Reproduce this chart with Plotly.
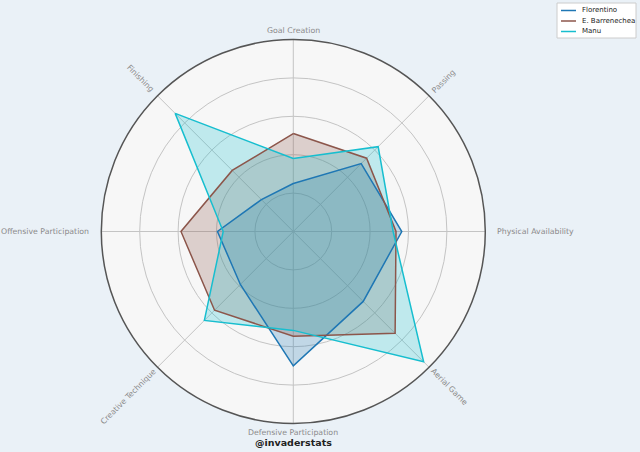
import numpy as np
import plotly.graph_objects as go

categories = ['Goal Creation', 'Passing', 'Physical Availability', 'Aerial Game',
              'Defensive Participation', 'Creative Technique',
              'Offensive Participation', 'Finishing']
players = ['Florentino', 'E. Barrenechea', 'Manu']
florentino = [0.25, 0.50, 0.565, 0.515, 0.70, 0.39, 0.395, 0.235]
barrenechea = [0.51, 0.54, 0.535, 0.75, 0.545, 0.58, 0.585, 0.45]
manu = [0.38, 0.625, 0.52, 0.96, 0.515, 0.655, 0.365, 0.87]
line_colors = ['#1f77b4', '#8c564b', '#17becf']
fill_colors = ['rgba(31,119,180,0.25)', 'rgba(140,86,75,0.25)', 'rgba(23,190,207,0.25)']

W, H = 640, 452
cx, cy, R = 293.3, 231.5, 192

series = [florentino, barrenechea, manu]
fig = go.Figure()
# fills first, outlines on top
for name, vals, fc in zip(players, series, fill_colors):
    fig.add_trace(go.Scatterpolar(
        r=vals + vals[:1], theta=categories + categories[:1],
        name=name, mode='lines', fill='toself', fillcolor=fc,
        line=dict(width=0), hoverinfo='skip',
    ))
for name, vals, lc in zip(players, series, line_colors):
    fig.add_trace(go.Scatterpolar(
        r=vals + vals[:1], theta=categories + categories[:1],
        name=name, mode='lines', line=dict(color=lc, width=1.5),
    ))

# category labels, rotated like the original
annotations = []
for i, cat in enumerate(categories):
    ang = np.deg2rad(90 - i * 45)
    ca, sa = np.cos(ang), np.sin(ang)
    if i % 4 == 0:      # top / bottom
        rr = 201
        tangle, xa = 0, 'center'
    elif i % 4 == 2:    # right / left
        rr = 202
        tangle = 0
        xa = 'left' if ca > 0 else 'right'
    else:               # diagonals
        rr = 199 + len(cat) * 3.8 / 2
        tangle = -45 if (ca * sa) > 0 else 45
        xa = 'center'
    px = cx + rr * ca
    py = cy - rr * sa
    annotations.append(dict(
        x=px / W, y=1 - py / H, xref='paper', yref='paper',
        text=cat, showarrow=False, textangle=tangle,
        xanchor=xa, yanchor='middle',
        font=dict(family='DejaVu Sans', size=7.8, color='#8a8a8a'),
    ))

annotations.append(dict(
    x=cx / W, y=1 - 442 / H, xref='paper', yref='paper',
    text='<b>@invaderstats</b>', showarrow=False,
    xanchor='center', yanchor='middle',
    font=dict(family='DejaVu Sans', size=9.5, color='#222222'),
))

# compact legend box (matplotlib-like), drawn with shapes + text
shapes = [dict(type='rect', xref='paper', yref='paper',
               x0=557 / W, x1=636 / W, y0=1 - 38 / H, y1=1 - 3 / H,
               line=dict(color='#cccccc', width=1), fillcolor='white', layer='above')]
for k, (name, lc) in enumerate(zip(players, line_colors)):
    ly = 10.5 + k * 10.5
    shapes.append(dict(type='line', xref='paper', yref='paper',
                       x0=561 / W, x1=576 / W, y0=1 - ly / H, y1=1 - ly / H,
                       line=dict(color=lc, width=1.5), layer='above'))
    annotations.append(dict(
        x=580 / W, y=1 - ly / H, xref='paper', yref='paper',
        text=name, showarrow=False, xanchor='left', yanchor='middle',
        font=dict(family='DejaVu Sans', size=7, color='#222222'),
    ))

fig.update_layout(
    width=W, height=H,
    margin=dict(l=0, r=0, t=0, b=0),
    paper_bgcolor='#eaf1f7',
    polar=dict(
        domain=dict(x=[(cx - R) / W, (cx + R) / W], y=[1 - (cy + R) / H, 1 - (cy - R) / H]),
        bgcolor='#f7f7f7',
        radialaxis=dict(range=[0, 1], tickvals=[0.2, 0.4, 0.6, 0.8],
                        showticklabels=False, ticks='', showline=False,
                        gridcolor='#c4c4c4', gridwidth=1),
        angularaxis=dict(direction='clockwise', rotation=90,
                         showticklabels=False, ticks='',
                         showline=True, linecolor='#555555', linewidth=1.5,
                         gridcolor='#c4c4c4', gridwidth=1),
    ),
    showlegend=False,
    shapes=shapes,
    annotations=annotations,
)

fig.write_html('out.html', config={'displayModeBar': False},
               post_script="document.body.style.margin='0';")
